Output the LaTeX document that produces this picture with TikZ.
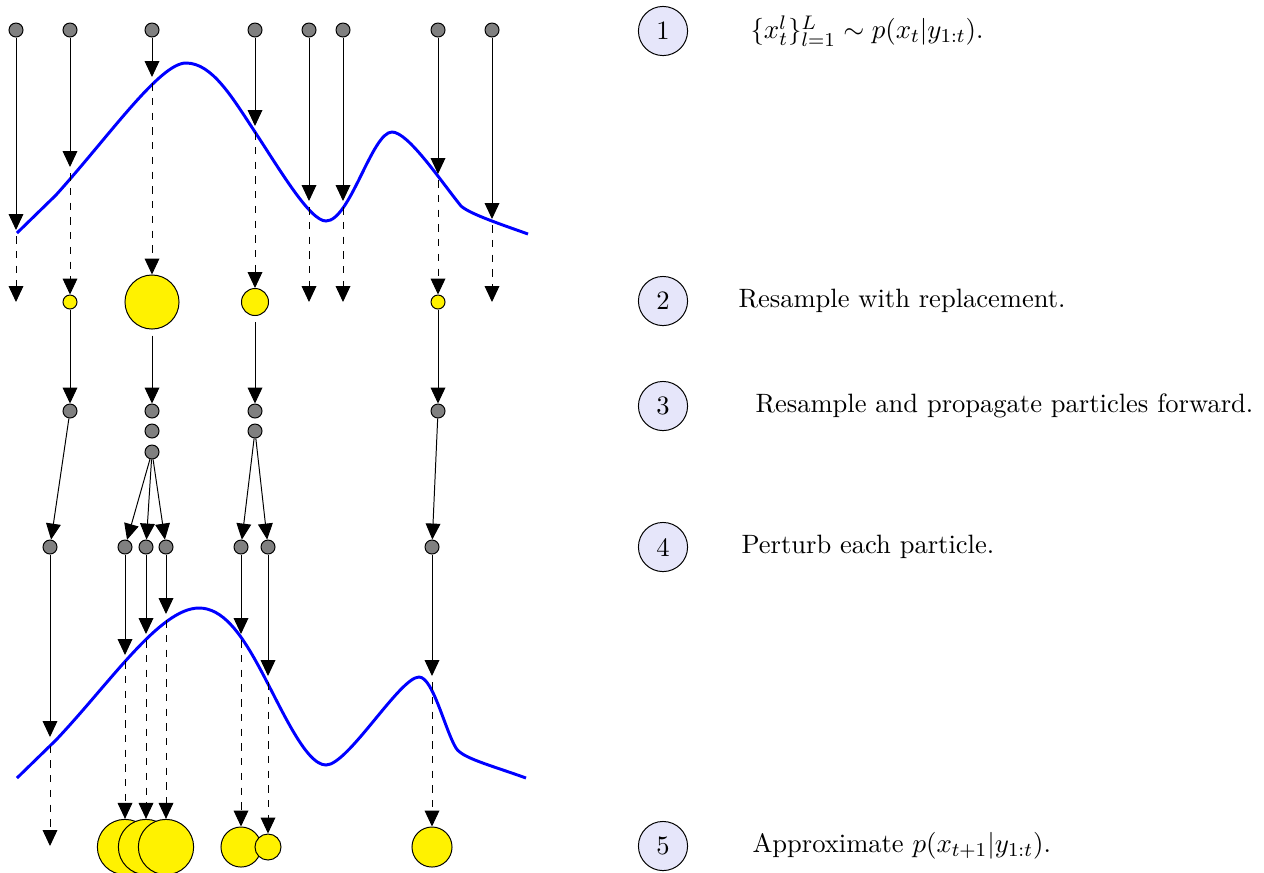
\documentclass[tikz,border=0pt]{standalone}
\usepackage{xcolor}
\usepackage{tikz}
\usetikzlibrary{arrows.meta}
\definecolor{lav}{HTML}{E6E6FA}
\tikzset{
  font=\fontsize{10.8}{13}\selectfont,
  >={Triangle[length=6.5pt,width=6pt]},
  particle/.style={circle, draw=black, fill=gray, inner sep=0pt, minimum size=5.7pt},
  weight/.style={circle, draw=black, fill=yellow, inner sep=0pt, minimum size=#1},
  weight/.default=5.7pt,
  stepmark/.style={circle, draw=black, fill=lav, inner sep=0pt, minimum size=20pt},
  note/.style={anchor=west, inner sep=0pt},
  flow/.style={->, line width=0.4pt},
  dashflow/.style={->, dashed, line width=0.4pt, shorten <=2.5pt},
  density/.style={blue, line width=1.2pt}
}

\begin{document}
\begin{tikzpicture}[x=0.407pt,y=-0.407pt]
  \useasboundingbox (0,0) rectangle (1264,872);

  % density at time t
  \draw[density] (17,233) -- (56,195)
    .. controls (110,135) and (160,63) .. (186,63)
    .. controls (212,63) and (232,97) .. (255,132)
    .. controls (280,170) and (310,221) .. (326,221)
    .. controls (350,221) and (372,132) .. (392,132)
    .. controls (408,132) and (440,180) .. (461,206)
    .. controls (470,214) and (500,224) .. (528,234);

  % particles at time t
  \node[particle] (p1) at (16,30) {};
  \node[particle] (p2) at (70,30) {};
  \node[particle] (p3) at (152,30) {};
  \node[particle] (p4) at (255,30) {};
  \node[particle] (p5) at (309,30) {};
  \node[particle] (p6) at (343,30) {};
  \node[particle] (p7) at (438,30) {};
  \node[particle] (p8) at (492,30) {};

  % where they meet the density
  \coordinate (h1) at (16,230);
  \coordinate (h2) at (70,167);
  \coordinate (h3) at (152,77);
  \coordinate (h4) at (255,126);
  \coordinate (h5) at (309,201);
  \coordinate (h6) at (343,201);
  \coordinate (h7) at (438,174);
  \coordinate (h8) at (492,219);

  % weights
  \node[weight] (w1) at (70,302) {};
  \node[weight=22pt] (w2) at (152,302) {};
  \node[weight=11pt] (w3) at (255,302) {};
  \node[weight] (w4) at (438,302) {};
  \coordinate (z1) at (16,302);
  \coordinate (z5) at (309,302);
  \coordinate (z6) at (343,302);
  \coordinate (z8) at (492,302);

  \foreach \i in {1,...,8}
    \draw[flow] (p\i) -- (h\i);
  \draw[dashflow] (h1) -- (z1);
  \draw[dashflow] (h2) -- (w1);
  \draw[dashflow] (h3) -- (w2);
  \draw[dashflow] (h4) -- (w3);
  \draw[dashflow] (h5) -- (z5);
  \draw[dashflow] (h6) -- (z6);
  \draw[dashflow] (h7) -- (w4);
  \draw[dashflow] (h8) -- (z8);

  % resampled particles
  \node[particle] (q1) at (70,411) {};
  \node[particle] (q2) at (152,411) {};
  \node[particle] (q3) at (152,431) {};
  \node[particle] (q4) at (152,452) {};
  \node[particle] (q5) at (255,411) {};
  \node[particle] (q6) at (255,431) {};
  \node[particle] (q7) at (438,411) {};

  \draw[flow] (w1) -- (q1);
  \draw[flow, shorten <=2.5pt] (w2) -- (q2);
  \draw[flow, shorten <=2.5pt] (w3) -- (q5);
  \draw[flow] (w4) -- (q7);

  % perturbed particles
  \node[particle] (r1) at (50,547) {};
  \node[particle] (r2) at (125,547) {};
  \node[particle] (r3) at (146,547) {};
  \node[particle] (r4) at (166,547) {};
  \node[particle] (r5) at (241,547) {};
  \node[particle] (r6) at (268,547) {};
  \node[particle] (r7) at (432,547) {};

  \draw[flow] (q1) -- (r1);
  \draw[flow] (q4) -- (r2);
  \draw[flow] (q4) -- (r3);
  \draw[flow] (q4) -- (r4);
  \draw[flow] (q6) -- (r5);
  \draw[flow] (q6) -- (r6);
  \draw[flow] (q7) -- (r7);

  % density at time t+1
  \draw[density] (17,778) -- (56,740)
    .. controls (110,683) and (160,608) .. (199,608)
    .. controls (222,608) and (240,632) .. (258,665)
    .. controls (280,705) and (305,765) .. (326,765)
    .. controls (348,765) and (400,677) .. (419,677)
    .. controls (433,677) and (445,730) .. (456,748)
    .. controls (462,758) and (490,765) .. (526,778);

  \coordinate (k1) at (50,737);
  \coordinate (k2) at (125,655);
  \coordinate (k3) at (146,634);
  \coordinate (k4) at (166,614);
  \coordinate (k5) at (241,634);
  \coordinate (k6) at (268,676);
  \coordinate (k7) at (432,676);
  \foreach \i in {1,...,7}
    \draw[flow] (r\i) -- (k\i);

  % predicted weights
  \node[weight=22.5pt] (b1) at (125,847) {};
  \node[weight=22.5pt] (b2) at (146,847) {};
  \node[weight=22.5pt] (b3) at (166,847) {};
  \node[weight=16.3pt] (b4) at (241,847) {};
  \node[weight=10.6pt] (b5) at (268,847) {};
  \node[weight=16.3pt] (b6) at (432,847) {};
  \coordinate (e1) at (50,846);

  \draw[dashflow, shorten <=3.5pt] (k1) -- (e1);
  \draw[dashflow] (k2) -- (b1);
  \draw[dashflow] (k3) -- (b2);
  \draw[dashflow] (k4) -- (b3);
  \draw[dashflow] (k5) -- (b4);
  \draw[dashflow] (k6) -- (b5);
  \draw[dashflow] (k7) -- (b6);

  % steps
  \node[stepmark] (s1) at (663,31) {1};
  \node[stepmark] (s2) at (663,301) {2};
  \node[stepmark] (s3) at (663,406) {3};
  \node[stepmark] (s4) at (663,547) {4};
  \node[stepmark] (s5) at (663,846) {5};

  \node[note] (t1) at (750,31) {$\{x_t^l\}_{l=1}^L \sim p(x_t|y_{1:t})$.};
  \node[note] (t2) at (738,301) {Resample with replacement.};
  \node[note] (t3) at (755,406) {Resample and propagate particles forward.};
  \node[note] (t4) at (741,547) {Perturb each particle.};
  \node[note] (t5) at (752,846) {Approximate $p(x_{t+1}|y_{1:t})$.};
\end{tikzpicture}
\end{document}
